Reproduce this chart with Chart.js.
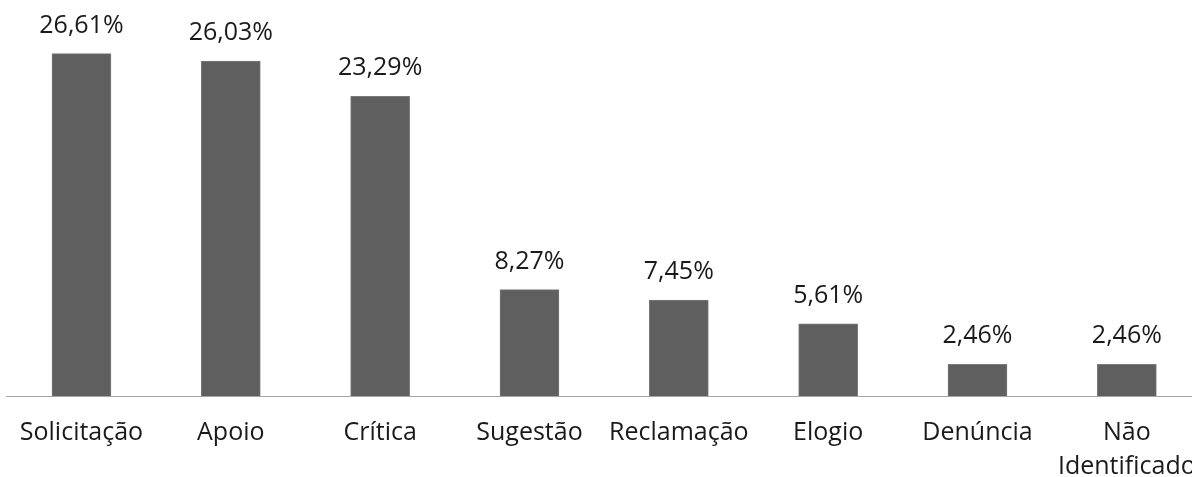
<!DOCTYPE html>
<html>
<head>
<meta charset="utf-8">
<script src="https://cdn.jsdelivr.net/npm/chart.js@4/dist/chart.umd.min.js"></script>
<style>
  html, body { margin: 0; padding: 0; background: #fff; overflow: hidden; }
  #wrap { width: 1216px; height: 514px; }
</style>
</head>
<body>
<div id="wrap"><canvas id="grafico"></canvas></div>
<script>
const categorias = ['Solicitação', 'Apoio', 'Crítica', 'Sugestão', 'Reclamação', 'Elogio', 'Denúncia', ['Não', 'Identificado']];
const valores = [26.61, 26.03, 23.29, 8.27, 7.45, 5.61, 2.46, 2.46];

const fonte = "'Open Sans', sans-serif";

// rótulos de valor acima das barras
const rotulosValor = {
    id: 'rotulosValor',
    afterDatasetsDraw(chart) {
        const ctx = chart.ctx;
        const meta = chart.getDatasetMeta(0);
        ctx.save();
        ctx.font = '25px ' + fonte;
        ctx.fillStyle = '#1a1a1a';
        ctx.textAlign = 'center';
        ctx.textBaseline = 'alphabetic';
        meta.data.forEach((bar, i) => {
            const txt = valores[i].toFixed(2).replace('.', ',') + '%';
            ctx.fillText(txt, bar.x, bar.y - 21);
        });
        ctx.restore();
    }
};

const ctx = document.getElementById('grafico').getContext('2d');
new Chart(ctx, {
    type: 'bar',
    data: {
        labels: categorias,
        datasets: [{
            data: valores,
            backgroundColor: '#5f5f5f',
            borderColor: '#7a7a7a',
            borderWidth: 1,
            barThickness: 59
        }]
    },
    options: {
        responsive: true,
        maintainAspectRatio: false,
        animation: false,
        layout: { padding: { top: 10, left: 6, right: 5, bottom: 10 } },
        plugins: {
            legend: { display: false },
            tooltip: { enabled: false }
        },
        scales: {
            x: {
                grid: { display: false, drawTicks: false, tickLength: 0 },
                border: { display: true, color: '#a6a6a6', width: 1 },
                ticks: {
                    color: '#1a1a1a',
                    padding: 20,
                    maxRotation: 0,
                    autoSkip: false,
                    font: { family: fonte, size: 25, lineHeight: 1.36 }
                }
            },
            y: {
                display: false,
                min: 0,
                max: 30
            }
        }
    },
    plugins: [rotulosValor]
});
</script>
</body>
</html>
